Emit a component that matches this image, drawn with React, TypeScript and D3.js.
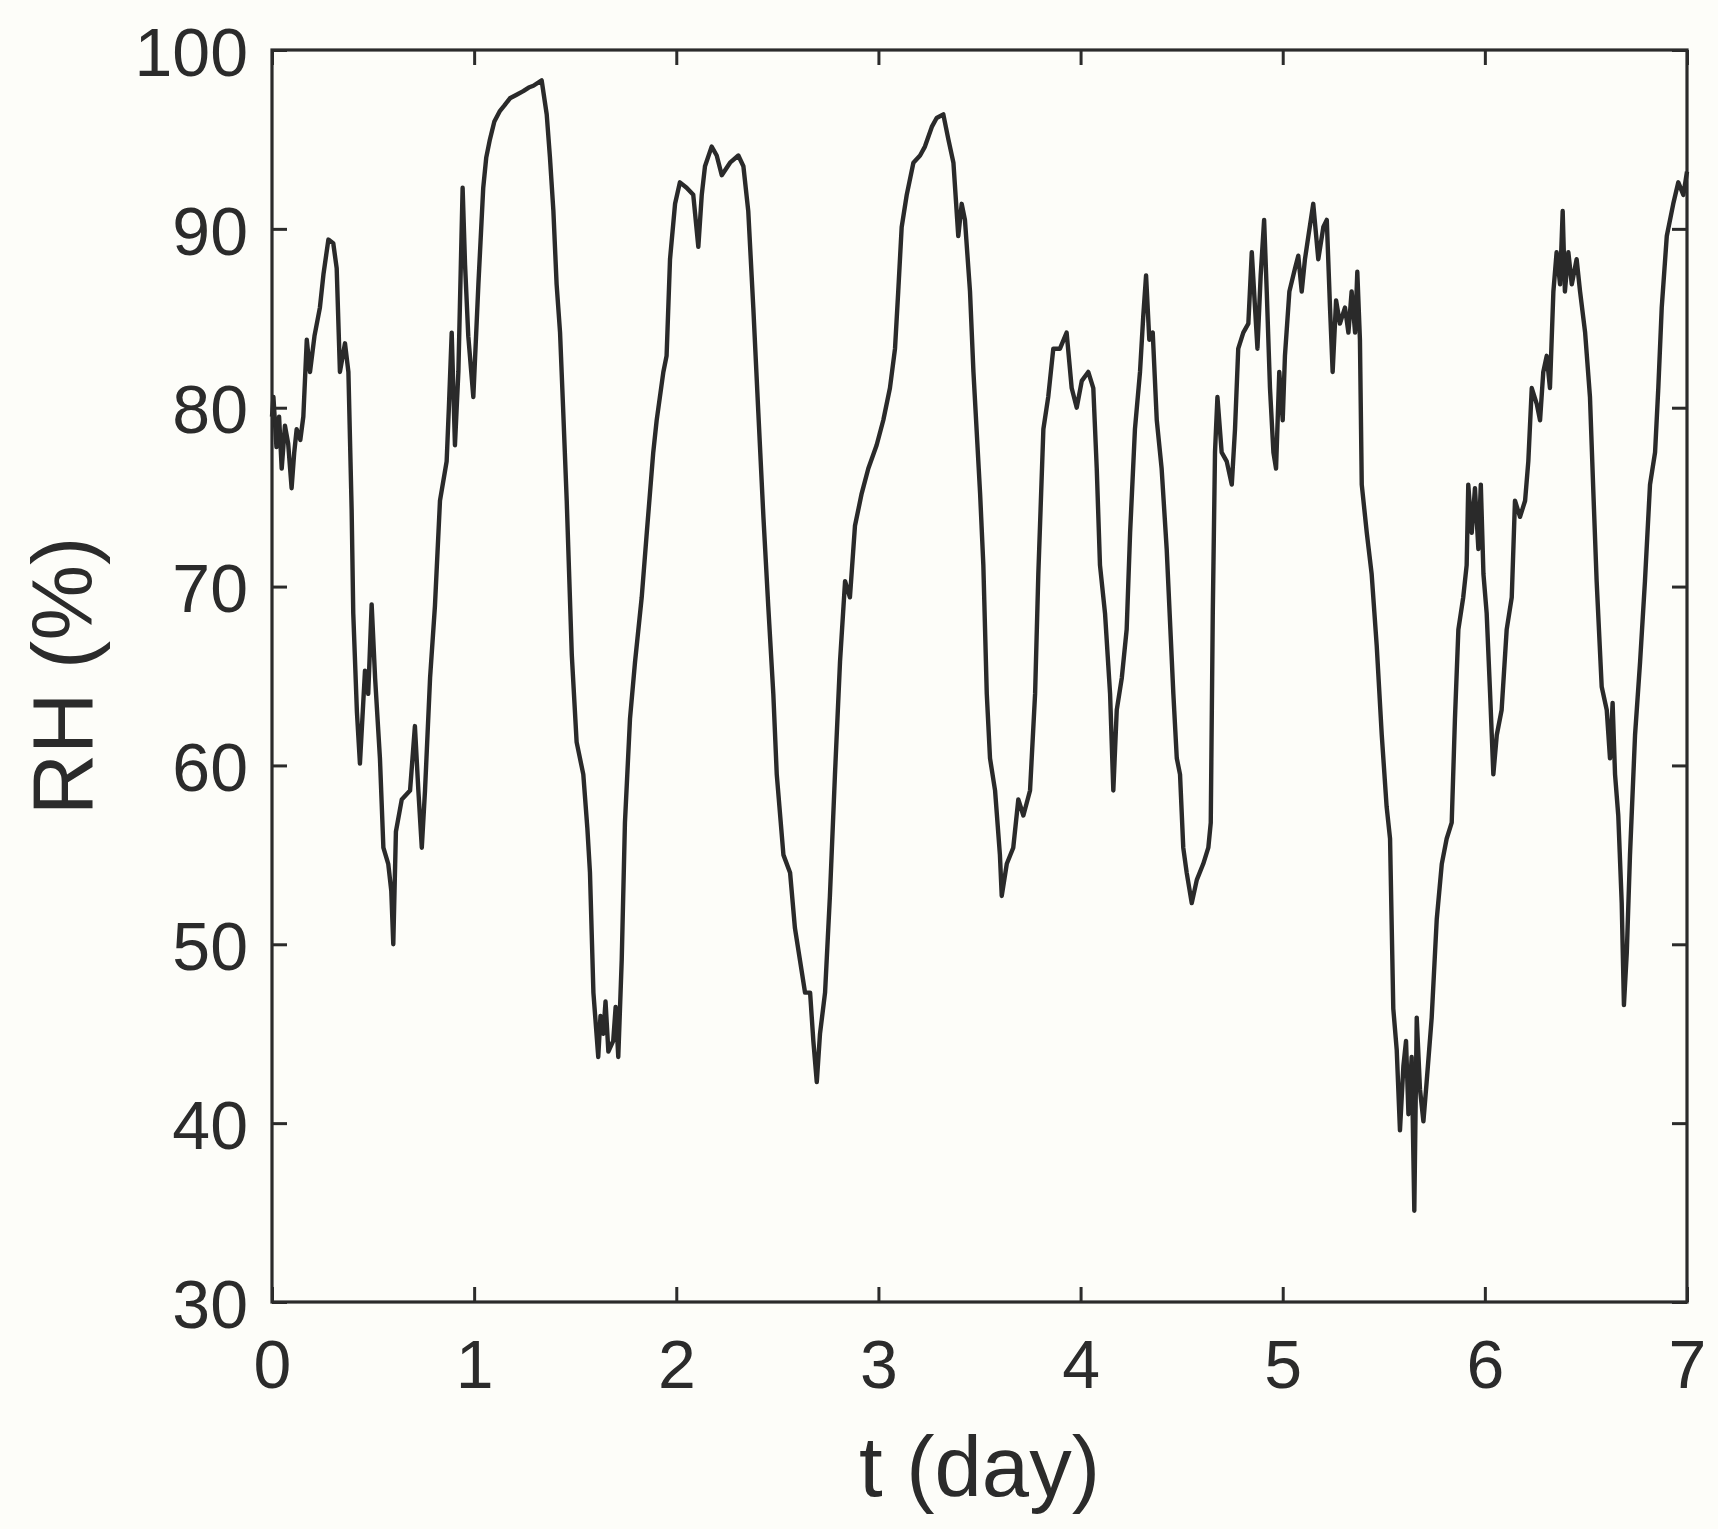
import React, { useEffect, useRef } from 'react';
import * as d3 from 'd3';

// RH time series: t in days, RH in %
const tDay: number[] = [
  0.000, 0.007, 0.022, 0.035, 0.048, 0.064, 0.080, 0.097, 0.110, 0.122, 0.140, 0.155, 0.172, 0.188, 0.210,
  0.237, 0.255, 0.279, 0.303, 0.320, 0.336, 0.361, 0.378, 0.394, 0.402, 0.420, 0.435, 0.460, 0.476, 0.493,
  0.510, 0.534, 0.551, 0.575, 0.590, 0.600, 0.613, 0.642, 0.683, 0.707, 0.724, 0.741, 0.757, 0.782, 0.806,
  0.831, 0.864, 0.875, 0.889, 0.905, 0.922, 0.943, 0.955, 0.971, 0.996, 1.021, 1.045, 1.060, 1.078, 1.100,
  1.128, 1.150, 1.177, 1.210, 1.243, 1.270, 1.293, 1.334, 1.359, 1.375, 1.392, 1.408, 1.425, 1.440, 1.458,
  1.483, 1.507, 1.540, 1.560, 1.573, 1.590, 1.614, 1.625, 1.639, 1.650, 1.664, 1.688, 1.700, 1.713, 1.730,
  1.746, 1.771, 1.796, 1.829, 1.854, 1.886, 1.903, 1.936, 1.952, 1.969, 1.994, 2.018, 2.051, 2.084, 2.109,
  2.126, 2.142, 2.175, 2.200, 2.225, 2.266, 2.307, 2.332, 2.356, 2.381, 2.406, 2.431, 2.455, 2.480, 2.497,
  2.530, 2.563, 2.587, 2.612, 2.637, 2.662, 2.678, 2.695, 2.711, 2.736, 2.760, 2.785, 2.810, 2.835, 2.859,
  2.884, 2.917, 2.950, 2.991, 3.024, 3.057, 3.082, 3.098, 3.115, 3.140, 3.173, 3.206, 3.230, 3.264, 3.288,
  3.321, 3.346, 3.371, 3.395, 3.412, 3.428, 3.453, 3.470, 3.503, 3.519, 3.536, 3.552, 3.577, 3.601, 3.610,
  3.635, 3.667, 3.692, 3.717, 3.750, 3.775, 3.791, 3.816, 3.840, 3.865, 3.898, 3.931, 3.956, 3.981, 4.006,
  4.038, 4.063, 4.080, 4.096, 4.121, 4.146, 4.162, 4.179, 4.204, 4.228, 4.245, 4.269, 4.294, 4.310, 4.324,
  4.340, 4.357, 4.377, 4.401, 4.426, 4.459, 4.476, 4.492, 4.508, 4.525, 4.550, 4.575, 4.607, 4.632, 4.644,
  4.654, 4.665, 4.677, 4.698, 4.723, 4.748, 4.764, 4.780, 4.805, 4.830, 4.847, 4.863, 4.875, 4.891, 4.908,
  4.921, 4.937, 4.954, 4.967, 4.983, 5.000, 5.011, 5.033, 5.061, 5.077, 5.094, 5.110, 5.127, 5.151, 5.176,
  5.201, 5.218, 5.234, 5.247, 5.264, 5.283, 5.308, 5.325, 5.341, 5.358, 5.369, 5.382, 5.391, 5.416, 5.440,
  5.465, 5.490, 5.514, 5.531, 5.547, 5.564, 5.580, 5.597, 5.610, 5.622, 5.638, 5.651, 5.663, 5.679, 5.696,
  5.712, 5.737, 5.762, 5.787, 5.811, 5.836, 5.852, 5.869, 5.893, 5.910, 5.918, 5.935, 5.951, 5.968, 5.980,
  5.993, 6.009, 6.026, 6.042, 6.059, 6.083, 6.108, 6.133, 6.149, 6.174, 6.199, 6.215, 6.232, 6.257, 6.273,
  6.289, 6.306, 6.322, 6.339, 6.355, 6.372, 6.385, 6.396, 6.413, 6.430, 6.454, 6.471, 6.496, 6.520, 6.537,
  6.553, 6.578, 6.603, 6.619, 6.632, 6.644, 6.660, 6.677, 6.688, 6.702, 6.718, 6.743, 6.768, 6.792, 6.817,
  6.842, 6.858, 6.875, 6.900, 6.932, 6.957, 6.982, 7.000,
];

const rh: number[] = [
  79.5, 80.6, 77.8, 79.5, 76.6, 79.0, 78.0, 75.5, 77.5, 78.8, 78.2, 79.5, 83.8, 82.0, 84.0,
  85.6, 87.5, 89.4, 89.2, 87.8, 82.0, 83.6, 82.0, 74.3, 68.5, 63.0, 60.1, 65.3, 64.0, 69.0,
  64.9, 60.4, 55.4, 54.5, 53.0, 50.0, 56.3, 58.1, 58.6, 62.2, 58.6, 55.4, 58.6, 64.9, 68.9,
  74.8, 77.0, 80.0, 84.2, 77.9, 82.0, 92.3, 88.0, 84.0, 80.6, 86.9, 92.3, 94.0, 95.0, 96.0,
  96.6, 96.9, 97.3, 97.5, 97.7, 97.9, 98.0, 98.3, 96.4, 94.0, 91.0, 86.9, 84.2, 80.0, 74.8,
  66.2, 61.3, 59.5, 56.5, 54.0, 47.3, 43.7, 46.0, 45.0, 46.8, 44.0, 44.6, 46.5, 43.7, 49.1,
  56.8, 62.6, 65.8, 69.4, 73.0, 77.5, 79.3, 82.0, 82.9, 88.3, 91.4, 92.6, 92.3, 91.9, 89.0,
  91.9, 93.5, 94.6, 94.1, 93.0, 93.7, 94.1, 93.5, 91.0, 85.6, 79.7, 73.9, 68.9, 64.0, 59.5,
  55.0, 54.0, 50.9, 49.1, 47.3, 47.3, 44.6, 42.3, 45.0, 47.3, 52.7, 59.5, 65.8, 70.3, 69.4,
  73.4, 75.2, 76.6, 77.9, 79.3, 81.1, 83.3, 86.5, 90.1, 91.9, 93.7, 94.1, 94.6, 95.7, 96.2,
  96.4, 95.0, 93.7, 89.6, 91.4, 90.5, 86.5, 82.0, 75.2, 71.2, 64.0, 60.4, 58.6, 55.0, 52.7,
  54.5, 55.4, 58.1, 57.2, 58.6, 64.0, 70.7, 78.8, 80.6, 83.3, 83.3, 84.2, 81.1, 80.0, 81.5,
  82.0, 81.1, 76.6, 71.2, 68.5, 64.0, 58.6, 63.1, 64.9, 67.6, 73.0, 78.8, 82.0, 85.1, 87.4,
  83.8, 84.2, 79.3, 76.6, 72.1, 64.0, 60.4, 59.5, 55.4, 54.0, 52.3, 53.6, 54.5, 55.4, 56.8,
  68.5, 77.5, 80.6, 77.5, 77.0, 75.7, 78.8, 83.3, 84.2, 84.7, 88.7, 85.6, 83.3, 87.4, 90.5,
  86.5, 81.1, 77.5, 76.6, 82.0, 79.3, 82.9, 86.5, 87.8, 88.5, 86.5, 88.3, 89.6, 91.4, 88.3,
  90.1, 90.5, 85.6, 82.0, 86.0, 84.7, 85.6, 84.2, 86.5, 84.2, 87.6, 83.8, 75.7, 73.0, 70.7,
  66.7, 61.7, 57.7, 55.9, 46.4, 44.1, 39.6, 43.2, 44.6, 40.5, 43.7, 35.1, 45.9, 41.9, 40.1,
  42.3, 45.9, 51.4, 54.5, 55.9, 56.8, 62.6, 67.6, 69.4, 71.2, 75.7, 73.0, 75.5, 72.1, 75.7,
  70.7, 68.5, 64.0, 59.5, 61.7, 63.1, 67.6, 69.4, 74.8, 73.9, 74.8, 77.0, 81.1, 80.2, 79.3,
  82.0, 82.9, 81.1, 86.5, 88.7, 86.9, 91.0, 86.5, 88.7, 86.9, 88.3, 86.5, 84.2, 80.6, 75.2,
  70.3, 64.4, 63.1, 60.4, 63.5, 59.5, 57.2, 52.3, 46.6, 49.5, 55.0, 61.7, 65.8, 70.3, 75.7,
  77.5, 81.1, 85.6, 89.6, 91.4, 92.6, 91.9, 93.2,
];

const xTicks: number[] = [0, 1, 2, 3, 4, 5, 6, 7];
const yTicks: number[] = [30, 40, 50, 60, 70, 80, 90, 100];

const App = () => {
  const svgRef = useRef<SVGSVGElement>(null);

  useEffect(() => {
    const svgWidth = 1718;
    const svgHeight = 1529;
    const margin = { top: 50, right: 31, bottom: 227, left: 272 };
    const w = svgWidth - margin.left - margin.right;
    const h = svgHeight - margin.top - margin.bottom;
    const ink = '#2b2b2b';
    const font = '"Liberation Sans", Arial, Helvetica, sans-serif';

    const svg = d3.select(svgRef.current);
    svg.selectAll('*').remove();
    svg.attr('width', svgWidth).attr('height', svgHeight);

    svg.append('rect').attr('width', svgWidth).attr('height', svgHeight).attr('fill', '#fdfdf9');

    const g = svg.append('g').attr('transform', `translate(${margin.left},${margin.top})`);

    const x = d3.scaleLinear().domain([0, 7]).range([0, w]);
    const y = d3.scaleLinear().domain([30, 100]).range([h, 0]);

    // curve
    const pts = tDay.map((t, i) => [t, rh[i]] as [number, number]);
    const line = d3.line<[number, number]>()
      .x(d => x(d[0]))
      .y(d => y(d[1]));

    g.append('path')
      .datum(pts)
      .attr('fill', 'none')
      .attr('stroke', '#2a2a2a')
      .attr('stroke-width', 4.4)
      .attr('stroke-linejoin', 'round')
      .attr('d', line);

    // axes, matlab style ticks pointing inward
    const styleAxis = (sel: any) => {
      sel.select('.domain').remove();
      sel.selectAll('line').attr('stroke', ink).attr('stroke-width', 3);
      sel.selectAll('text').attr('fill', ink).style('font-family', font).style('font-size', '68px');
    };

    g.append('g')
      .attr('transform', `translate(0,${h})`)
      .call(d3.axisBottom(x).tickValues(xTicks).tickFormat(d3.format('d')).tickSize(-15).tickPadding(38))
      .call(styleAxis);

    g.append('g')
      .call(d3.axisLeft(y).tickValues(yTicks).tickFormat(d3.format('d')).tickSize(-15).tickPadding(24))
      .call(styleAxis)
      .call(s => s.selectAll('text').attr('dy', '0.37em'));

    g.append('g')
      .call(d3.axisTop(x).tickValues(xTicks).tickFormat(() => '').tickSize(-15))
      .call(styleAxis);

    g.append('g')
      .attr('transform', `translate(${w},0)`)
      .call(d3.axisRight(y).tickValues(yTicks).tickFormat(() => '').tickSize(-15))
      .call(styleAxis);

    // frame
    g.append('rect')
      .attr('width', w)
      .attr('height', h)
      .attr('fill', 'none')
      .attr('stroke', ink)
      .attr('stroke-width', 3.2);

    // axis labels
    g.append('text')
      .attr('x', w / 2)
      .attr('y', h + 194)
      .attr('text-anchor', 'middle')
      .attr('fill', ink)
      .style('font-family', font)
      .style('font-size', '85px')
      .text('t (day)');

    g.append('text')
      .attr('transform', `translate(${92 - margin.left},${h / 2}) rotate(-90)`)
      .attr('text-anchor', 'middle')
      .attr('fill', ink)
      .style('font-family', font)
      .style('font-size', '85px')
      .text('RH (%)');
  }, []);

  return <svg ref={svgRef} style={{ position: 'absolute', left: 0, top: 0 }}></svg>;
};

export default App;
